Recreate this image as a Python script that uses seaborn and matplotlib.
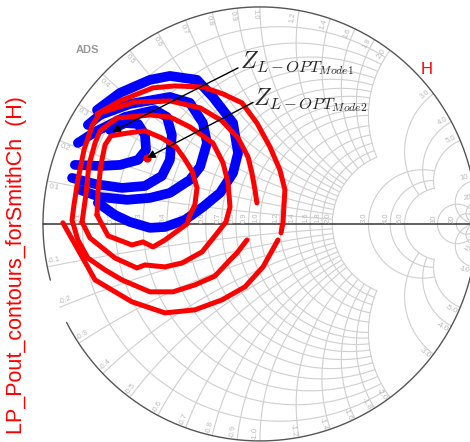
import numpy as np
import matplotlib.pyplot as plt
import seaborn as sns

sns.set_theme(style='white')
plt.rcParams['font.family'] = ['Liberation Sans', 'DejaVu Sans']
plt.rcParams['mathtext.fontset'] = 'cm'

# %% load-pull contours, reflection coefficient (real, imag)
# Mode 1 -> blue
blue1_re = [-0.691, -0.622, -0.562, -0.530, -0.525, -0.562, -0.645, -0.737, -0.853]
blue1_im = [0.433, 0.465, 0.461, 0.410, 0.341, 0.295, 0.272, 0.267, 0.272]
blue2_re = [-0.839, -0.760, -0.622, -0.484, -0.429, -0.406, -0.415, -0.452, -0.530, -0.636, -0.760, -0.866]
blue2_im = [0.373, 0.424, 0.493, 0.525, 0.493, 0.410, 0.295, 0.221, 0.175, 0.166, 0.184, 0.212]
blue3_re = [-0.793, -0.737, -0.599, -0.415, -0.323, -0.263, -0.244, -0.276, -0.323, -0.415, -0.507, -0.613, -0.737, -0.829]
blue3_im = [0.456, 0.502, 0.553, 0.585, 0.558, 0.465, 0.373, 0.263, 0.203, 0.143, 0.120, 0.111, 0.124, 0.157]
blue4_re = [-0.751, -0.645, -0.507, -0.415, -0.290, -0.217, -0.124, -0.101, -0.124, -0.184, -0.263, -0.346, -0.438, -0.507, -0.599, -0.668, -0.747]
blue4_im = [0.525, 0.604, 0.664, 0.682, 0.664, 0.585, 0.465, 0.327, 0.235, 0.143, 0.078, 0.018, -0.014, -0.018, 0.009, 0.041, 0.097]

# Mode 2 -> red
red1_re = [-0.751, -0.747, -0.733, -0.714, -0.687, -0.608, -0.530, -0.452, -0.387, -0.350, -0.313, -0.290, -0.300,
           -0.323, -0.336, -0.387, -0.438, -0.493, -0.539, -0.590, -0.650, -0.700, -0.751]
red1_im = [0.041, 0.143, 0.272, 0.364, 0.406, 0.419, 0.429, 0.396, 0.355, 0.304, 0.244, 0.166, 0.088,
           0.041, 0.000, -0.037, -0.074, -0.106, -0.083, -0.097, -0.074, -0.055, 0.041]
red2_re = [-0.820, -0.802, -0.788, -0.760, -0.737, -0.659, -0.507, -0.415, -0.323, -0.217, -0.170, -0.147, -0.138,
           -0.157, -0.207, -0.267, -0.359, -0.438, -0.530, -0.567, -0.668, -0.783, -0.820]
red2_im = [0.009, 0.134, 0.272, 0.373, 0.429, 0.488, 0.502, 0.493, 0.447, 0.373, 0.281, 0.189, 0.078,
           0.009, -0.055, -0.129, -0.180, -0.198, -0.189, -0.203, -0.157, -0.065, 0.009]
red3_re = [-0.014, -0.023, -0.037, -0.055, -0.101, -0.175, -0.276, -0.415, -0.576, -0.737, -0.774, -0.811, -0.839,
           -0.857, -0.866, -0.839, -0.793, -0.714, -0.636, -0.507, -0.401, -0.300, -0.207, -0.138, -0.106, -0.060]
red3_im = [0.097, 0.157, 0.235, 0.309, 0.396, 0.475, 0.535, 0.567, 0.562, 0.512, 0.452, 0.341, 0.203,
           0.088, 0.018, -0.074, -0.157, -0.212, -0.258, -0.313, -0.313, -0.281, -0.240, -0.166, -0.134, -0.074]
red4a_re = [-0.751, -0.645, -0.493, -0.392, -0.263, -0.170, -0.083, -0.014, 0.046, 0.092, 0.115, 0.106, 0.097]
red4a_im = [0.507, 0.567, 0.627, 0.636, 0.631, 0.599, 0.558, 0.465, 0.355, 0.249, 0.157, 0.005, -0.041]
red4b_re = [0.083, 0.014, -0.069, -0.175, -0.300, -0.438, -0.590, -0.760, -0.908]
red4b_im = [-0.074, -0.198, -0.290, -0.350, -0.396, -0.410, -0.359, -0.258, 0.005]

# optimum points
opt1 = (-0.682, 0.424)
opt2 = (-0.521, 0.304)

# smith chart grid values
r_ticks = [0.1, 0.2, 0.3, 0.4, 0.5, 0.6, 0.7, 0.8, 0.9, 1.0, 1.2, 1.4, 1.6, 1.8, 2.0, 3.0, 4.0, 5.0, 10, 20]
x_ticks = [0.1, 0.2, 0.3, 0.4, 0.5, 0.6, 0.7, 0.8, 0.9, 1.0, 1.2, 1.4, 1.6, 1.8, 2.0, 3.0, 4.0, 5.0, 10, 20]
tick_labels = ['0.1', '0.2', '0.3', '0.4', '0.5', '0.6', '0.7', '0.8', '0.9', '1.0', '1.2', '1.4', '1.6',
               '1.8', '2.0', '3.0', '4.0', '5.0', '10', '20']


def gamma(z):
    return (z - 1) / (z + 1)


def limit(v):
    # how far each grid line runs (ADS style, sparser toward the right)
    if v <= 2.0:
        return 2.0
    if v <= 5.0:
        return 5.0
    return 1e4


# %%
fig = plt.figure(figsize=(4.70, 4.42), dpi=100)
ax = fig.add_axes([0, 0, 1, 1])
ax.set_xlim(-1.198, 0.968)
ax.set_ylim(-1.005, 1.032)
ax.set_aspect('equal')
ax.axis('off')

grid_c = '#cfcfcf'
for r in r_ticks:
    t = np.linspace(-np.arctan(limit(r)), np.arctan(limit(r)), 500)
    g = gamma(r + 1j * np.tan(t))
    ax.plot(g.real, g.imag, color=grid_c, lw=0.8, zorder=1)
for x in x_ticks:
    t = np.linspace(0, np.arctan(limit(x)), 500)
    for s in (1, -1):
        g = gamma(np.tan(t) + 1j * s * x)
        ax.plot(g.real, g.imag, color=grid_c, lw=0.8, zorder=1)

# outer circle, with the little break on the lower left
th = np.radians(np.linspace(-153, 195, 800))
ax.plot(np.cos(th), np.sin(th), color='#555555', lw=1.0, zorder=2)
ax.plot([-1, 1], [0, 0], color='#333333', lw=1.1, zorder=2)

# axis labels
lab_c = '#b8b8b8'
for r, lab in zip(r_ticks, tick_labels):
    ax.text(gamma(r) - 0.018, 0.006, lab, rotation=90, ha='center', va='bottom',
            fontsize=5.5, color=lab_c, zorder=2)
for x, lab in zip(x_ticks, tick_labels):
    for s in (1, -1):
        ang = np.angle(gamma(1j * s * x)) + np.radians(1.3) * s
        rot = np.degrees(ang)
        if rot > 90:
            rot -= 180
        elif rot < -90:
            rot += 180
        ax.text(0.965 * np.cos(ang), 0.965 * np.sin(ang), lab if s > 0 else '-' + lab,
                rotation=rot, ha='center', va='center', fontsize=5.5, color=lab_c,
                rotation_mode='anchor', zorder=2)

# %% contours
blue_lw = 7.0
for re, im in [(blue1_re, blue1_im), (blue2_re, blue2_im), (blue3_re, blue3_im), (blue4_re, blue4_im)]:
    sns.lineplot(x=re, y=im, sort=False, estimator=None, color='#0000ff', lw=blue_lw, ax=ax, zorder=3)
red_lw = 3.6
for re, im in [(red1_re, red1_im), (red2_re, red2_im), (red3_re, red3_im), (red4a_re, red4a_im), (red4b_re, red4b_im)]:
    sns.lineplot(x=re, y=im, sort=False, estimator=None, color='#ff0000', lw=red_lw, ax=ax, zorder=4)
sns.scatterplot(x=[opt2[0]], y=[opt2[1]], color='#ff0000', s=35, linewidth=0, ax=ax, zorder=5)

# annotations
arr = dict(arrowstyle='-|>', color='black', lw=1.0, mutation_scale=12, shrinkA=0, shrinkB=0)
ax.annotate('', xy=opt1, xytext=(-0.101, 0.719), arrowprops=arr, zorder=6)
ax.annotate('', xy=opt2, xytext=(-0.032, 0.560), arrowprops=arr, zorder=6)
ax.text(-0.092, 0.719, r'$Z_{L-OPT_{Mode1}}$', fontsize=17, ha='left', va='baseline', zorder=6)
ax.text(-0.032, 0.548, r'$Z_{L-OPT_{Mode2}}$', fontsize=17, ha='left', va='baseline', zorder=6)

ax.text(-0.793, 0.802, 'ADS', fontsize=8, color='#999999', fontweight='bold', ha='center', va='center')
ax.text(0.770, 0.710, 'H', fontsize=12, color='#ff0000', ha='center', va='center')
fig.text(17 / 470, 1 - 265 / 442, 'LP_Pout_contours_forSmithCh  (H)', rotation=90, color='#ff0000',
         fontsize=15.5, ha='center', va='center')

if ax.get_legend():
    ax.get_legend().remove()
fig.savefig('out.png', dpi=100)
